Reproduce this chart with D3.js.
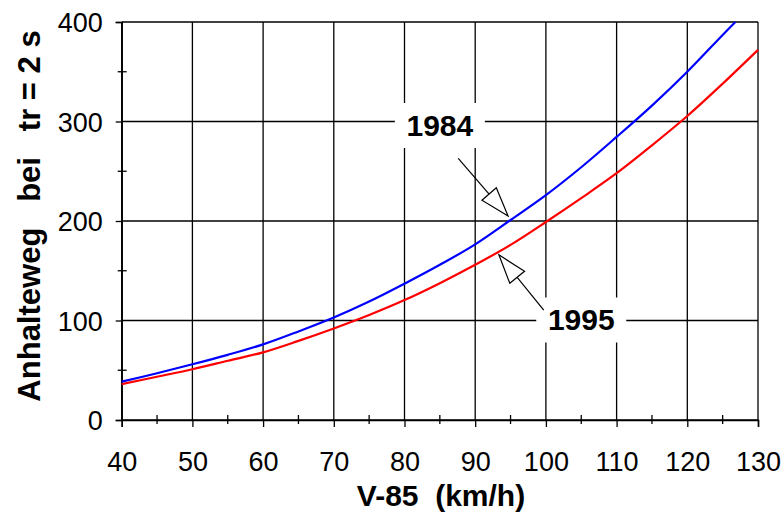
<!DOCTYPE html>
<html><head><meta charset="utf-8">
<script src="https://cdn.jsdelivr.net/npm/d3@7"></script>
<style>body{margin:0;background:#fff}text{font-family:"Liberation Sans",Arial,sans-serif}</style>
</head><body>
<svg id="chart" width="784" height="517"></svg>
<script>
// ---- data ----
const speeds1984 = [40,45,50,55,60,65,70,75,80,85,90,95,100,105,110,115,120,125,126.8];
const dist1984   = [38.5,47,56,65.5,76,89,103,119,137,156,176.5,201,226,254,284.5,316,350,387,400];
const speeds1995 = [40,45,50,55,60,65,70,75,80,85,90,95,100,105,110,115,120,125,130];
const dist1995   = [36,43.5,51,59.5,68,79.5,92,105.5,120.5,137.5,156,176,199,223,248,276,305.5,338,372];
const xTicks = [40,50,60,70,80,90,100,110,120,130];
const xMinor = [45,55,65,75,85,95,105,115,125];
const yTicks = [0,100,200,300,400];
const yMinor = [50,150,250,350];
const xTitle = "V-85  (km/h)";
const yTitle = "Anhalteweg   bei   tr = 2 s";
const labels = [
  {text:"1984", lx:85, ly:296.5, sx:87.6, sy:263, tx:94.65, ty:205},
  {text:"1995", lx:105, ly:101, sx:99.7, sy:110.5, tx:93.35, ty:166}
];

// ---- layout ----
const W=784,H=517, m={l:121.7,t:22,r:26,b:97};
const svg=d3.select("#chart");
const x=d3.scaleLinear().domain([40,130]).range([m.l,W-m.r]);
const y=d3.scaleLinear().domain([0,400]).range([H-m.b,m.t]);

// gridlines
const g=svg.append("g");
g.selectAll(".vg").data(xTicks).join("line")
  .attr("x1",d=>x(d)).attr("x2",d=>x(d)).attr("y1",y(0)).attr("y2",y(400))
  .attr("stroke","#000").attr("stroke-width",1.3);
g.selectAll(".hg").data(yTicks).join("line")
  .attr("x1",x(40)).attr("x2",x(130)).attr("y1",d=>y(d)).attr("y2",d=>y(d))
  .attr("stroke","#000").attr("stroke-width",1.3);

// label boxes (break the grid)
labels.forEach(L=>{
  svg.append("rect").attr("x",x(L.lx)-45).attr("y",y(L.ly)-22).attr("width",90).attr("height",45).attr("fill","#fff");
});

// axes
const fs="27px";
const xa=svg.append("g").attr("transform",`translate(0,${y(0)})`)
  .call(d3.axisBottom(x).tickValues(xTicks).tickSize(7).tickPadding(25).tickFormat(d3.format("d")));
xa.select(".domain").attr("stroke","#000").attr("stroke-width",1.5);
xa.selectAll(".tick line").attr("stroke","#000").attr("stroke-width",1.3);
xa.selectAll("text").attr("font-size",fs).attr("fill","#000").style("font-family","Liberation Sans, Arial, sans-serif");
const ya=svg.append("g").attr("transform",`translate(${x(40)},0)`)
  .call(d3.axisLeft(y).tickValues(yTicks).tickSize(6).tickPadding(13).tickFormat(d3.format("d")));
ya.select(".domain").attr("stroke","#000").attr("stroke-width",1.5);
ya.selectAll(".tick line").attr("stroke","#000").attr("stroke-width",1.3);
ya.selectAll("text").attr("font-size",fs).attr("fill","#000").attr("dy","0.36em").style("font-family","Liberation Sans, Arial, sans-serif");

// minor ticks
svg.selectAll(".mx").data(xMinor).join("line")
  .attr("x1",d=>x(d)).attr("x2",d=>x(d)).attr("y1",y(0)-5).attr("y2",y(0)+4)
  .attr("stroke","#000").attr("stroke-width",1.3);
svg.selectAll(".my").data(yMinor).join("line")
  .attr("x1",x(40)-4).attr("x2",x(40)+5).attr("y1",d=>y(d)).attr("y2",d=>y(d))
  .attr("stroke","#000").attr("stroke-width",1.3);

// curves
const line=d3.line().x(d=>x(d[0])).y(d=>y(d[1])).curve(d3.curveCatmullRom.alpha(0.5));
svg.append("path").datum(speeds1995.map((s,i)=>[s,dist1995[i]]))
  .attr("d",line).attr("fill","none").attr("stroke","#ff0000").attr("stroke-width",2.2);
svg.append("path").datum(speeds1984.map((s,i)=>[s,dist1984[i]]))
  .attr("d",line).attr("fill","none").attr("stroke","#0000ff").attr("stroke-width",2.2);

// annotations
labels.forEach(L=>{
  svg.append("text").attr("x",x(L.lx)).attr("y",y(L.ly)).attr("dy","0.36em")
    .attr("text-anchor","middle").attr("font-size","30px").attr("font-weight","bold").text(L.text);
  const sx=x(L.sx), sy=y(L.sy), tx=x(L.tx), ty=y(L.ty);
  const dx=tx-sx, dy=ty-sy, len=Math.hypot(dx,dy), ux=dx/len, uy=dy/len;
  const hl=29, hw=9.5;
  const bx=tx-ux*hl, by=ty-uy*hl;
  svg.append("line").attr("x1",sx).attr("y1",sy).attr("x2",bx).attr("y2",by).attr("stroke","#000").attr("stroke-width",1.2);
  const pts=[[tx,ty],[bx-uy*hw,by+ux*hw],[bx+uy*hw,by-ux*hw]];
  svg.append("polygon").attr("points",pts.map(p=>p.join(",")).join(" "))
    .attr("fill","#fff").attr("stroke","#000").attr("stroke-width",1.2);
});

// titles
svg.append("text").attr("x",441).attr("y",506).attr("text-anchor","middle")
  .attr("font-size","30px").attr("font-weight","bold").style("white-space","pre").text(xTitle);
svg.append("text").attr("transform","translate(40,216) rotate(-90)").attr("text-anchor","middle")
  .attr("font-size","31px").attr("font-weight","bold").style("white-space","pre").text(yTitle);
</script>
</body></html>
